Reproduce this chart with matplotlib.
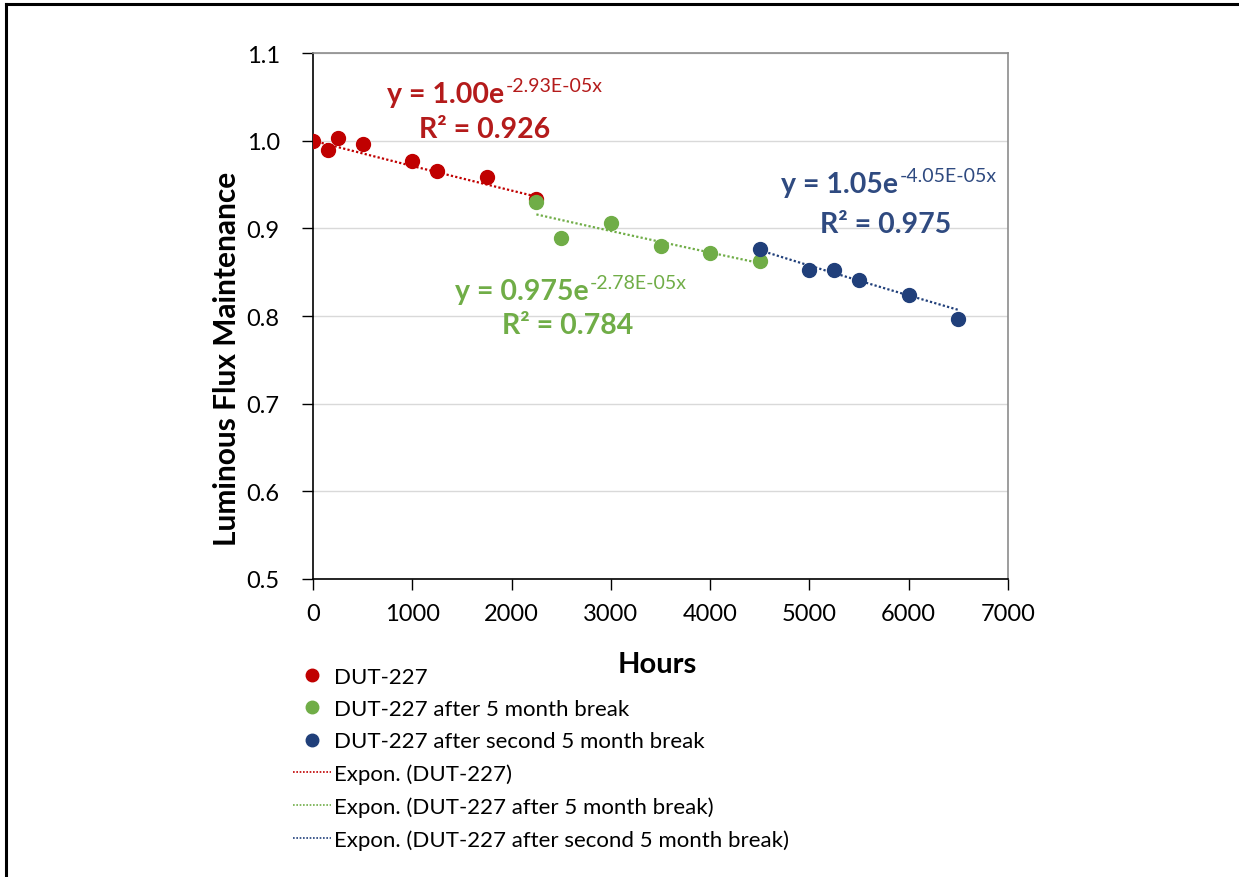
import matplotlib
matplotlib.use("Agg")
import matplotlib.pyplot as plt
import numpy as np
from matplotlib.lines import Line2D

plt.rcParams['font.family'] = ['Lato', 'DejaVu Sans']

# data
hours_1 = [0, 150, 250, 500, 1000, 1250, 1750, 2250]
flux_1 = [1.000, 0.989, 1.003, 0.996, 0.977, 0.965, 0.958, 0.934]
hours_2 = [2250, 2500, 3000, 3500, 4000, 4500]
flux_2 = [0.930, 0.889, 0.906, 0.880, 0.872, 0.863]
hours_3 = [4500, 5000, 5250, 5500, 6000, 6500]
flux_3 = [0.876, 0.853, 0.853, 0.841, 0.824, 0.797]

# exponential trendline coefficients (y = a * exp(b x))
fit_a = [1.00, 0.975, 1.05]
fit_b = [-2.93e-05, -2.78e-05, -4.05e-05]
fit_r2 = ['0.926', '0.784', '0.975']
fit_a_txt = ['1.00', '0.975', '1.05']
fit_b_txt = ['-2.93E-05x', '-2.78E-05x', '-4.05E-05x']

labels = ['DUT-227', 'DUT-227 after 5 month break', 'DUT-227 after second 5 month break']
colors = ['#C00000', '#70AD47', '#203F7A']
text_colors = ['#B41B1B', '#70AD47', '#2F4A80']

fig = plt.figure(figsize=(12.39, 8.78), dpi=100)
ax = fig.add_axes([313 / 1239, 1 - 580 / 878, 695 / 1239, 526 / 878])

series = [(hours_1, flux_1), (hours_2, flux_2), (hours_3, flux_3)]
handles = []
for (h, f), c, lab in zip(series, colors, labels):
    ax.plot(h, f, 'o', color=c, markersize=10, zorder=3)
    handles.append(Line2D([], [], marker='o', color=c, linestyle='none', markersize=9, label=lab))

trend_handles = []
for (h, f), c, lab, a, b in zip(series, colors, labels, fit_a, fit_b):
    xs = np.linspace(h[0], h[-1], 50)
    ax.plot(xs, a * np.exp(b * xs), linestyle=(0, (1, 1)), color=c, lw=1.6, zorder=2)
    trend_handles.append(Line2D([], [], linestyle=(0, (1, 1)), color=c, lw=1.2,
                                label='Expon. (' + lab + ')'))

ax.set_xlim(0, 7000)
ax.set_ylim(0.5, 1.1)
ax.set_xticks(np.arange(0, 7001, 1000))
ax.set_yticks(np.arange(0.5, 1.101, 0.1))
ax.set_yticklabels(['%.1f' % v for v in np.arange(0.5, 1.101, 0.1)])
ax.grid(axis='y', color='#D9D9D9', lw=1)
ax.set_axisbelow(True)
ax.tick_params(axis='both', labelsize=17, direction='out', length=8, width=1, colors='black')
ax.tick_params(axis='x', pad=9)
ax.tick_params(axis='y', pad=16)
for s in ['left', 'bottom']:
    ax.spines[s].set_color('black')
    ax.spines[s].set_linewidth(1.2)
for s in ['top', 'right']:
    ax.spines[s].set_color('#8C8C8C')
    ax.spines[s].set_linewidth(1.2)

ax.set_xlabel('Hours', fontsize=21, fontweight='bold')
ax.xaxis.set_label_coords(0.495, -0.137)
ax.set_ylabel('Luminous Flux Maintenance', fontsize=21.5, fontweight='bold', va='center')
ax.yaxis.set_label_coords(-0.124, 0.42)

# equation labels
eq_pos = [(745, 1.053), (1430, 0.828), (4713, 0.950)]
r2_pos = [(1730, 1.013), (2560, 0.790), (5770, 0.905)]
for i in range(3):
    t = ax.text(eq_pos[i][0], eq_pos[i][1], 'y = ' + fit_a_txt[i] + 'e', color=text_colors[i],
                fontsize=20.5, fontweight='bold', ha='left', va='center')
    ax.annotate(fit_b_txt[i], xy=(1, 0.85), xycoords=t, xytext=(1, 0), textcoords='offset points',
                color=text_colors[i], fontsize=14, ha='left', va='center')
    ax.text(r2_pos[i][0], r2_pos[i][1], 'R² = ' + fit_r2[i], color=text_colors[i],
            fontsize=20.5, fontweight='bold', ha='center', va='center')

fig.legend(handles=handles + trend_handles, loc='upper left',
           bbox_to_anchor=(293 / 1239, 1 - 668 / 878), frameon=False, fontsize=16,
           handlelength=1.7, handletextpad=0.15, labelspacing=0.55, borderpad=0, borderaxespad=0)

# outer border of the picture
fig.add_artist(Line2D([6 / 1239, 6 / 1239], [0, 1 - 5 / 878], color='black', lw=2.2,
                      transform=fig.transFigure))
fig.add_artist(Line2D([6 / 1239, 1], [1 - 5 / 878, 1 - 5 / 878], color='black', lw=2.2,
                      transform=fig.transFigure))

plt.savefig('out.png', dpi=100)
